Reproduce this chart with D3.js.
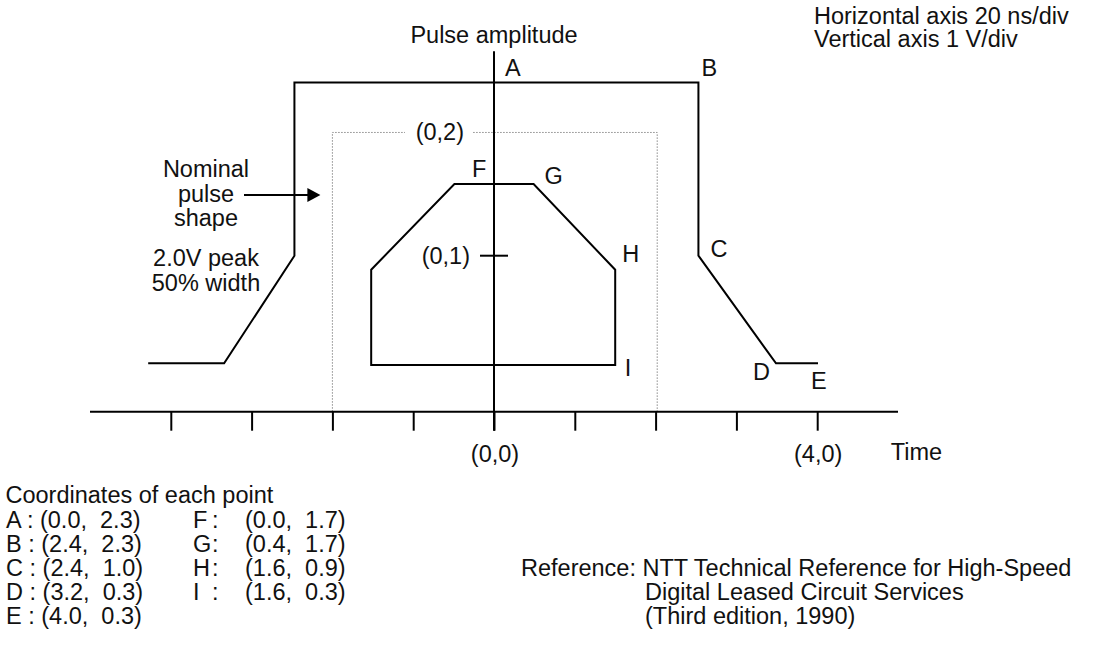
<!DOCTYPE html>
<html>
<head>
<meta charset="utf-8">
<script src="https://cdn.jsdelivr.net/npm/d3@7"></script>
<style>
    html, body { margin: 0; padding: 0; background: #fff; }
    .chart { width: 1093px; height: 655px; }
    text { font-family: 'Liberation Sans', Arial, Helvetica, sans-serif; font-size: 23.5px; fill: #111; white-space: pre; }
</style>
</head>
<body>
<div class="chart"></div>
<script>
// mask outlines in divisions, as they are drawn in the figure
const upperMask = [[-4.28, 0.31], [-3.34, 0.31], [-2.47, 1.0], [-2.47, 2.11], [2.53, 2.11], [2.53, 1.0], [3.49, 0.31], [4.01, 0.31]];
const lowerMask = [[-1.52, 0.30], [-1.52, 0.91], [-0.49, 1.46], [0.49, 1.46], [1.50, 0.91], [1.50, 0.30]];
const nominalBox = [[-2.0, 0], [-2.0, 1.79], [2.02, 1.79], [2.02, 0]];

const xTicks = [-4, -3, -2, -1, 0, 1, 2, 3, 4];
const xTickLabels = [[0, '(0,0)'], [4, '(4,0)']];
const yTickLabels = [[1, '(0,1)'], [1.79, '(0,2)']];

// table of the published coordinates
const pointNames = ['A', 'B', 'C', 'D', 'E', 'F', 'G', 'H', 'I'];
const pointCoords = [[0.0, 2.3], [2.4, 2.3], [2.4, 1.0], [3.2, 0.3], [4.0, 0.3], [0.0, 1.7], [0.4, 1.7], [1.6, 0.9], [1.6, 0.3]];

const noteLines = ['Nominal', 'pulse', 'shape', '2.0V peak', '50% width'];
const scaleLines = ['Horizontal axis 20 ns/div', 'Vertical axis 1 V/div'];
const refLines = ['Reference: NTT Technical Reference for High-Speed', 'Digital Leased Circuit Services', '(Third edition, 1990)'];

(function () {
    'use strict';

    const svg = d3.select('.chart').append('svg')
        .attr('width', 1093)
        .attr('height', 655);

    const x = d3.scaleLinear().domain([-5, 5]).range([90, 898]);
    const y = d3.scaleLinear().domain([0, 2.5]).range([411.7, 21.7]);

    const line = d3.line()
        .x(function (d) { return x(d[0]); })
        .y(function (d) { return y(d[1]); });

    // dotted nominal pulse box, with a gap for the (0,2) label
    svg.append('path')
        .attr('d', line(nominalBox))
        .attr('fill', 'none')
        .attr('stroke', '#8a8a8a')
        .attr('stroke-width', 1)
        .attr('stroke-dasharray', '1.5,1.5');

    svg.append('rect')
        .attr('x', x(0) - 89)
        .attr('y', y(1.79) - 4)
        .attr('width', 67)
        .attr('height', 8)
        .attr('fill', '#fff');

    // masks
    svg.append('path')
        .attr('d', line(upperMask))
        .attr('fill', 'none')
        .attr('stroke', '#000')
        .attr('stroke-width', 2)
        .attr('stroke-linejoin', 'miter');

    svg.append('path')
        .attr('d', line(lowerMask) + 'Z')
        .attr('fill', 'none')
        .attr('stroke', '#000')
        .attr('stroke-width', 2);

    // horizontal axis
    const xAxis = d3.axisBottom(x)
        .tickValues(xTicks)
        .tickSize(19)
        .tickFormat('');

    svg.append('g')
        .attr('transform', 'translate(0,' + y(0) + ')')
        .call(xAxis)
        .call(function (g) {
            g.select('.domain').attr('d', 'M' + x(-5) + ',0H' + x(5)).attr('stroke', '#000').attr('stroke-width', 2);
        })
        .call(function (g) {
            g.selectAll('.tick line').attr('stroke', '#000').attr('stroke-width', 2);
        });

    // vertical axis
    svg.append('line')
        .attr('x1', x(0)).attr('x2', x(0))
        .attr('y1', y(2.31)).attr('y2', y(0) + 19)
        .attr('stroke', '#000')
        .attr('stroke-width', 2);

    svg.append('line')
        .attr('x1', x(0) - 14).attr('x2', x(0) + 14)
        .attr('y1', y(1)).attr('y2', y(1))
        .attr('stroke', '#000')
        .attr('stroke-width', 2);

    svg.selectAll('.xlab').data(xTickLabels)
        .enter().append('text')
        .attr('class', 'xlab')
        .attr('text-anchor', 'middle')
        .attr('x', function (d) { return x(d[0]) + 1; })
        .attr('y', y(0) + 50)
        .text(function (d) { return d[1]; });

    svg.selectAll('.ylab').data(yTickLabels)
        .enter().append('text')
        .attr('class', 'ylab')
        .attr('text-anchor', 'end')
        .attr('x', function (d, i) { return x(0) - (i === 0 ? 24 : 30); })
        .attr('y', function (d) { return y(d[0]) + 8; })
        .text(function (d) { return d[1]; });

    svg.append('text')
        .attr('x', x(4.91))
        .attr('y', y(0) + 48.5)
        .text('Time');

    svg.append('text')
        .attr('text-anchor', 'middle')
        .attr('x', x(0))
        .attr('y', 43.3)
        .text('Pulse amplitude');

    // point letters, placed beside the vertex they name
    const spots = [
        [0, upperMask[3][1], 11, -7],
        upperMask[4].concat([3, -7]),
        upperMask[5].concat([12, 1]),
        upperMask[6].concat([-23, 17]),
        upperMask[7].concat([-7, 26]),
        [0, lowerMask[2][1], -22, -7],
        lowerMask[3].concat([11, 0]),
        lowerMask[4].concat([7, -8]),
        lowerMask[5].concat([9.5, 11])
    ];

    svg.selectAll('.pt').data(pointNames)
        .enter().append('text')
        .attr('class', 'pt')
        .attr('x', function (d, i) { return x(spots[i][0]) + spots[i][2]; })
        .attr('y', function (d, i) { return y(spots[i][1]) + spots[i][3]; })
        .text(function (d) { return d; });

    // nominal pulse note and arrow
    const noteY = [177, 202, 226, 265.7, 291];
    svg.selectAll('.note').data(noteLines)
        .enter().append('text')
        .attr('class', 'note')
        .attr('text-anchor', 'middle')
        .attr('x', 206)
        .attr('y', function (d, i) { return noteY[i]; })
        .text(function (d) { return d; });

    const arrowY = 195;
    const tip = x(-2) - 12;
    svg.append('line')
        .attr('x1', 244).attr('x2', tip - 10)
        .attr('y1', arrowY).attr('y2', arrowY)
        .attr('stroke', '#000')
        .attr('stroke-width', 2);
    svg.append('path')
        .attr('d', 'M' + tip + ',' + arrowY + 'L' + (tip - 13) + ',' + (arrowY - 7) + 'L' + (tip - 13) + ',' + (arrowY + 7) + 'Z')
        .attr('fill', '#000');

    // scale note, top right
    svg.selectAll('.scl').data(scaleLines)
        .enter().append('text')
        .attr('class', 'scl')
        .attr('x', 814)
        .attr('y', function (d, i) { return 23.5 + i * 23.6; })
        .text(function (d) { return d; });

    // coordinate table
    const fmt = d3.format('.1f');
    const coordText = function (i) {
        return '(' + fmt(pointCoords[i][0]) + ',  ' + fmt(pointCoords[i][1]) + ')';
    };

    svg.append('text')
        .attr('x', 5.5)
        .attr('y', 502.7)
        .text('Coordinates of each point');

    const table = svg.append('g');
    pointNames.forEach(function (n, i) {
        const row = i < 5 ? i : i - 5;
        const ty = 527.7 + row * 24;
        if (i < 5) {
            table.append('text')
                .attr('x', 6)
                .attr('y', ty)
                .text(n + ' : ' + coordText(i));
        } else {
            table.append('text').attr('x', 193).attr('y', ty).text(n);
            table.append('text').attr('x', 212).attr('y', ty).text(':');
            table.append('text').attr('x', 245).attr('y', ty).text(coordText(i));
        }
    });

    // reference
    svg.selectAll('.ref').data(refLines)
        .enter().append('text')
        .attr('class', 'ref')
        .attr('x', function (d, i) { return i === 0 ? 521 : 645; })
        .attr('y', function (d, i) { return 575.7 + i * 24; })
        .text(function (d) { return d; });
}());
</script>
</body>
</html>
